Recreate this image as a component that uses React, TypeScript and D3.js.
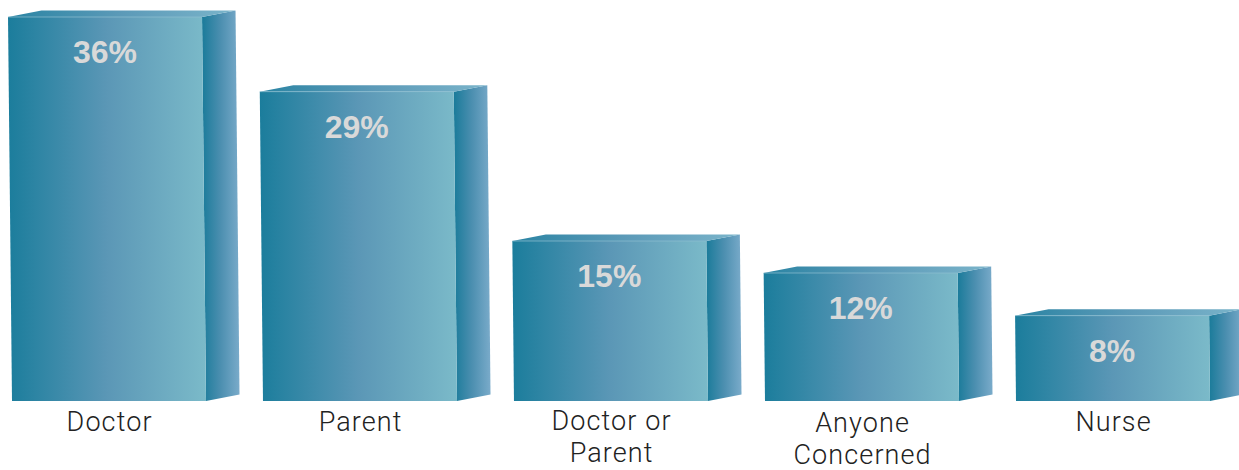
import React from "react";
import * as d3 from "d3";

const categories: string[][] = [["Doctor"], ["Parent"], ["Doctor or", "Parent"], ["Anyone", "Concerned"], ["Nurse"]];
const values: number[] = [36, 29, 15, 12, 8];
const valueLabels: string[] = ["36%", "29%", "15%", "12%", "8%"];

const W = 1239;
const H = 470;
const BASE = 401;
const DX = 33.5;
const DY = -6.5;
const SHEAR = 0.0104;

export default function App() {
  const keys = categories.map((c) => c.join(" "));
  const x = d3.scaleBand<string>().domain(keys).range([12, 1210]).paddingInner(0.227).paddingOuter(0);
  const y = d3.scaleLinear().domain([0, 36]).range([BASE, 17]);
  const bw = x.bandwidth();

  return (
    <svg width={W} height={H} style={{ position: "absolute", left: 0, top: 0, background: "#fff" }}>
      <defs>
        <linearGradient id="front" x1="0" x2="1" y1="0" y2="0">
          <stop offset="0" stopColor="#1b7d9c" />
          <stop offset="0.5" stopColor="#5b97b6" />
          <stop offset="1" stopColor="#7bbac9" />
        </linearGradient>
        <linearGradient id="top" x1="0" x2="1" y1="0" y2="0">
          <stop offset="0" stopColor="#2a84a3" />
          <stop offset="0.5" stopColor="#5c9ab8" />
          <stop offset="1" stopColor="#7ab4ca" />
        </linearGradient>
        <linearGradient id="side" x1="0" x2="1" y1="0" y2="0">
          <stop offset="0" stopColor="#1a7b9a" />
          <stop offset="0.5" stopColor="#4c8fb0" />
          <stop offset="1" stopColor="#7aabca" />
        </linearGradient>
      </defs>
      {keys.map((k, i) => {
        const xl = x(k)!;
        const xr = xl + bw;
        const yt = y(values[i]);
        const h = BASE - yt;
        const s = h * SHEAR;
        const tl: [number, number] = [xl - s, yt];
        const tr: [number, number] = [xr - s, yt];
        const bl: [number, number] = [xl, BASE];
        const br: [number, number] = [xr, BASE];
        const front = [tl, tr, br, bl];
        const top = [tl, [tl[0] + DX, tl[1] + DY], [tr[0] + DX, tr[1] + DY], tr];
        const side = [tr, [tr[0] + DX, tr[1] + DY], [br[0] + DX, br[1] + DY], br];
        const pts = (p: number[][]) => p.map((q) => q.join(",")).join(" ");
        const cx = (xl + xr) / 2;
        const two = categories[i].length > 1;
        const baseY = two ? (i === 3 ? 432 : 430) : 431;
        return (
          <g key={k}>
            <polygon points={pts(side)} fill="url(#side)" />
            <polygon points={pts(top)} fill="url(#top)" />
            <polygon points={pts(front)} fill="url(#front)" />
            <line x1={tl[0]} y1={tl[1]} x2={tr[0]} y2={tr[1]} stroke="#8fc0d2" strokeWidth={1} opacity={0.7} />
            <text
              x={cx - s}
              y={yt + 46}
              textAnchor="middle"
              fontFamily="Liberation Sans, Arial, sans-serif"
              fontWeight="bold"
              fontSize={32}
              fill="#d9d9d9"
            >
              {valueLabels[i]}
            </text>
            {categories[i].map((line, j) => (
              <text
                key={j}
                x={cx + 0.6}
                y={baseY + j * 32}
                textAnchor="middle"
                fontFamily="Roboto, 'Open Sans', sans-serif"
                fontWeight={300}
                fontSize={27}
                letterSpacing={1.1}
                fill="#222"
              >
                {line}
              </text>
            ))}
          </g>
        );
      })}
    </svg>
  );
}
